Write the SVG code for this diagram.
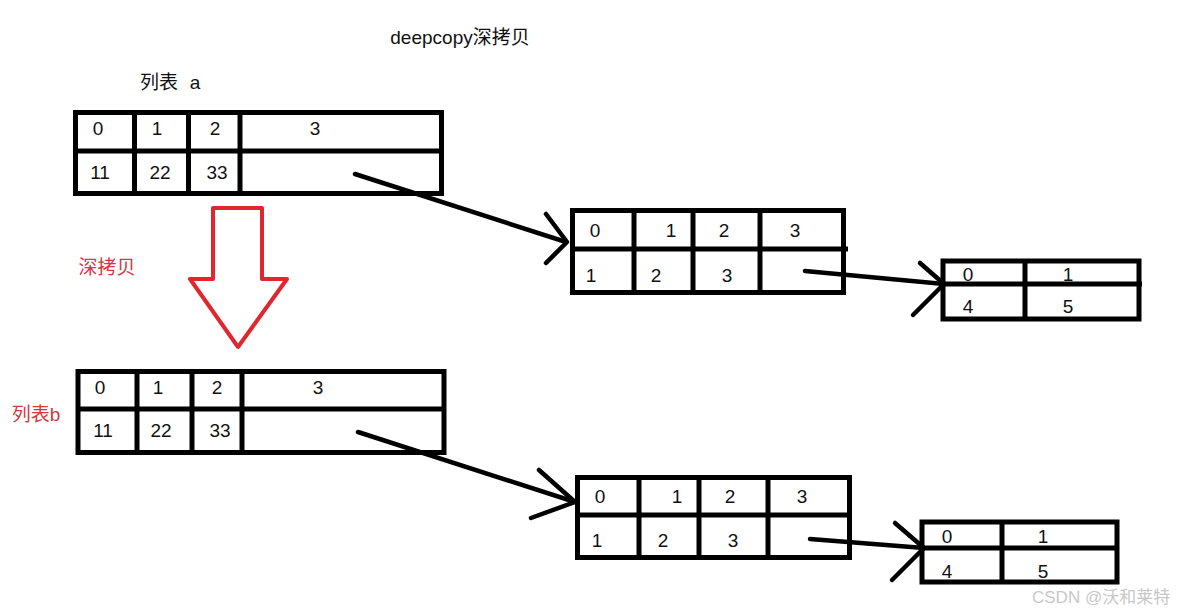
<svg xmlns="http://www.w3.org/2000/svg" width="1184" height="615" viewBox="0 0 1184 615">
<style>
.t{font-family:"Liberation Sans","Noto Sans CJK SC",sans-serif;font-size:19px;fill:#111;text-anchor:middle}
.red{fill:#d8353d}
.box{fill:none;stroke:#000;stroke-width:5}
.ln{stroke:#000;stroke-width:5;fill:none}
.con{stroke:#000;stroke-width:4.5;fill:none;stroke-linecap:round;stroke-linejoin:round}
.wm{font-family:"Liberation Sans","Noto Sans CJK SC",sans-serif;font-size:17px;fill:#c8c8c8}
</style>
<rect width="1184" height="615" fill="#fff"/>
<text class="t" x="460" y="44" font-size="20">deepcopy深拷贝</text>
<text class="t" x="159" y="89">列表</text>
<text class="t" x="195" y="89">a</text>
<text class="t red" x="107" y="274">深拷贝</text>
<text class="t red" x="36" y="421">列表b</text>

<g id="tableA">
<rect class="box" x="75.5" y="112.5" width="366" height="81"/>
<line class="ln" x1="75" y1="151" x2="442" y2="151"/>
<line class="ln" x1="134.5" y1="112" x2="134.5" y2="194"/>
<line class="ln" x1="188.5" y1="112" x2="188.5" y2="194"/>
<line class="ln" x1="240" y1="112" x2="240" y2="194"/>
<text class="t" x="98" y="135">0</text><text class="t" x="157" y="135">1</text><text class="t" x="215" y="135">2</text><text class="t" x="315" y="135">3</text>
<text class="t" x="100" y="179">11</text><text class="t" x="160" y="179">22</text><text class="t" x="217" y="179">33</text>
</g>

<g id="tableA2">
<rect class="box" x="572.5" y="210.5" width="271" height="82"/>
<line class="ln" x1="572" y1="249" x2="848" y2="249"/>
<line class="ln" x1="634" y1="210" x2="634" y2="293"/>
<line class="ln" x1="693" y1="210" x2="693" y2="293"/>
<line class="ln" x1="760" y1="210" x2="760" y2="293"/>
<text class="t" x="595" y="237">0</text><text class="t" x="671" y="237">1</text><text class="t" x="724" y="237">2</text><text class="t" x="795" y="237">3</text>
<text class="t" x="591" y="282">1</text><text class="t" x="656" y="282">2</text><text class="t" x="727" y="282">3</text>
</g>

<g id="tableA3">
<rect class="box" x="943" y="261" width="196" height="58"/>
<line class="ln" x1="943" y1="284" x2="1142" y2="284"/>
<line class="ln" x1="1025" y1="261" x2="1025" y2="319"/>
<text class="t" x="968" y="281">0</text><text class="t" x="1068" y="281">1</text>
<text class="t" x="968" y="313">4</text><text class="t" x="1068" y="313">5</text>
</g>

<g id="tableB">
<rect class="box" x="78" y="371.5" width="366" height="81"/>
<line class="ln" x1="78" y1="409" x2="444" y2="409"/>
<line class="ln" x1="137" y1="371" x2="137" y2="453"/>
<line class="ln" x1="192" y1="371" x2="192" y2="453"/>
<line class="ln" x1="242" y1="371" x2="242" y2="453"/>
<text class="t" x="100" y="394">0</text><text class="t" x="158" y="394">1</text><text class="t" x="217" y="394">2</text><text class="t" x="318" y="394">3</text>
<text class="t" x="103" y="437">11</text><text class="t" x="161" y="437">22</text><text class="t" x="220" y="437">33</text>
</g>

<g id="tableB2">
<rect class="box" x="577.5" y="477.5" width="272" height="80"/>
<line class="ln" x1="577" y1="515" x2="852" y2="515"/>
<line class="ln" x1="639" y1="477" x2="639" y2="558"/>
<line class="ln" x1="699" y1="477" x2="699" y2="558"/>
<line class="ln" x1="768" y1="477" x2="768" y2="558"/>
<text class="t" x="600" y="503">0</text><text class="t" x="677" y="503">1</text><text class="t" x="730" y="503">2</text><text class="t" x="802" y="503">3</text>
<text class="t" x="597" y="547">1</text><text class="t" x="663" y="547">2</text><text class="t" x="733" y="547">3</text>
</g>

<g id="tableB3">
<rect class="box" x="922" y="522" width="195" height="60"/>
<line class="ln" x1="922" y1="548" x2="1119" y2="548"/>
<line class="ln" x1="1002" y1="522" x2="1002" y2="582"/>
<text class="t" x="947" y="543">0</text><text class="t" x="1043" y="543">1</text>
<text class="t" x="947" y="578">4</text><text class="t" x="1043" y="578">5</text>
</g>

<g id="copyArrow">
<polygon points="213,208 262,208 262,279 287,279 238,347 190,279 213,279" fill="none" stroke="#e0262e" stroke-width="4" stroke-linejoin="round"/>
</g>

<g id="connectors">
<path class="con" d="M355,174 L566,242"/>
<path class="con" d="M546,214 L567,242 L546,263"/>
<path class="con" d="M805,271 L944,284"/>
<path class="con" d="M920,263 L944,284 L913,315"/>
<path class="con" d="M358,432 L575,502"/>
<path class="con" d="M539,470 L575,502 L531,518"/>
<path class="con" d="M810,539 L924,548"/>
<path class="con" d="M895,523 L924,548 L892,580"/>
</g>

<text class="wm" x="1032" y="603">CSDN @沃和莱特</text>
</svg>
